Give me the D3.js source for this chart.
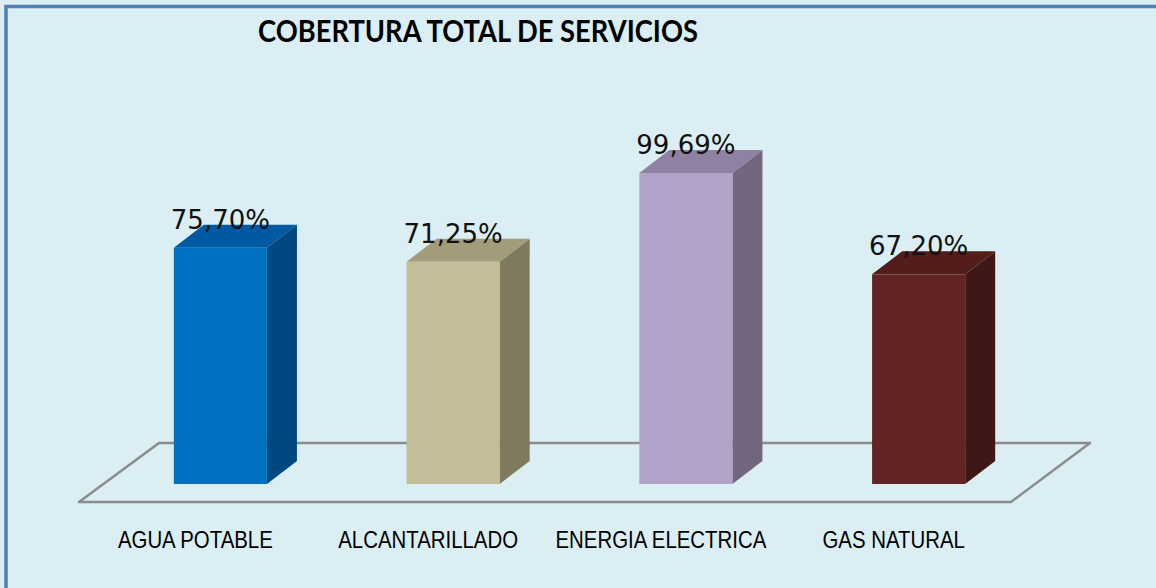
<!DOCTYPE html>
<html>
<head>
<meta charset="utf-8">
<script src="https://cdn.jsdelivr.net/npm/d3@7"></script>
<style>
  html, body { margin: 0; padding: 0; background: #daeef3; overflow: hidden; }
</style>
</head>
<body>
<div id="chart"></div>
<script>
const categories = ['AGUA POTABLE', 'ALCANTARILLADO', 'ENERGIA ELECTRICA', 'GAS NATURAL'];
const values = [75.70, 71.25, 99.69, 67.20];
const valueLabels = ['75,70%', '71,25%', '99,69%', '67,20%'];
const title = 'COBERTURA TOTAL DE SERVICIOS';

// front / top / side shades of each bar
const frontColors = ['#0070c0', '#c4bd97', '#b3a2c7', '#632523'];
const topColors = ['#0059a3', '#a29c7b', '#8f81a2', '#521d1b'];
const sideColors = ['#00467f', '#7f7a5e', '#726680', '#3f1716'];

const width = 1156;
const height = 588;
const depth = { dx: 30, dy: -23 };

const svg = d3.select('#chart')
  .append('svg')
  .attr('width', width)
  .attr('height', height)
  .style('display', 'block');

svg.append('rect')
  .attr('width', width)
  .attr('height', height)
  .attr('fill', '#daeef3');

// outer frame (only left and top edges fall inside the picture)
svg.append('rect')
  .attr('x', 6)
  .attr('y', 6.5)
  .attr('width', width + 50)
  .attr('height', height + 50)
  .attr('fill', 'none')
  .attr('stroke', '#4f81bd')
  .attr('stroke-width', 3.5);

const xScale = d3.scaleBand()
  .domain(categories)
  .range([104, 1035])
  .paddingInner(0.6)
  .paddingOuter(0.3);

const yScale = d3.scaleLinear()
  .domain([0, 100])
  .range([484, 172]);

// floor plane
const floor = d3.path();
floor.moveTo(79, 502);
floor.lineTo(1011, 502);
floor.lineTo(1090, 443);
floor.lineTo(159, 443);
floor.closePath();

svg.append('path')
  .attr('d', floor.toString())
  .attr('fill', '#daeef3')
  .attr('stroke', '#8c8c8c')
  .attr('stroke-width', 2.5)
  .attr('stroke-linejoin', 'round');

const bars = svg.append('g')
  .selectAll('g')
  .data(categories)
  .join('g');

const bw = xScale.bandwidth();

bars.append('path')
  .attr('fill', (_, i) => sideColors[i])
  .attr('d', (d, i) => {
    const x = xScale(d) + bw;
    const y0 = yScale(0);
    const y1 = yScale(values[i]);
    const p = d3.path();
    p.moveTo(x, y0);
    p.lineTo(x + depth.dx, y0 + depth.dy);
    p.lineTo(x + depth.dx, y1 + depth.dy);
    p.lineTo(x, y1);
    p.closePath();
    return p.toString();
  });

bars.append('path')
  .attr('fill', (_, i) => topColors[i])
  .attr('d', (d, i) => {
    const x = xScale(d);
    const y1 = yScale(values[i]);
    const p = d3.path();
    p.moveTo(x, y1);
    p.lineTo(x + depth.dx, y1 + depth.dy);
    p.lineTo(x + bw + depth.dx, y1 + depth.dy);
    p.lineTo(x + bw, y1);
    p.closePath();
    return p.toString();
  });

bars.append('rect')
  .attr('fill', (_, i) => frontColors[i])
  .attr('x', d => xScale(d))
  .attr('y', (_, i) => yScale(values[i]))
  .attr('width', bw)
  .attr('height', (_, i) => yScale(0) - yScale(values[i]));

bars.append('text')
  .attr('x', d => xScale(d) + bw / 2)
  .attr('y', (_, i) => yScale(values[i]) - 19)
  .attr('text-anchor', 'middle')
  .attr('font-family', 'DejaVu Sans, sans-serif')
  .attr('font-size', 26)
  .attr('fill', '#111')
  .text((_, i) => valueLabels[i]);

// category labels, squeezed horizontally to mimic a narrow face
svg.append('g')
  .selectAll('text')
  .data(categories)
  .join('text')
  .attr('transform', d => `translate(${xScale(d) + bw / 2 - 25},548) scale(0.85,1)`)
  .attr('text-anchor', 'middle')
  .attr('font-family', '"Liberation Sans Narrow", "Arial Narrow", "Liberation Sans", sans-serif')
  .attr('font-size', 24)
  .attr('fill', '#000')
  .text(d => d);

svg.append('text')
  .attr('x', 258)
  .attr('y', 42)
  .attr('font-family', 'Lato, "Open Sans", sans-serif')
  .attr('font-weight', 'bold')
  .attr('font-size', 30)
  .attr('textLength', 440)
  .attr('lengthAdjust', 'spacingAndGlyphs')
  .attr('fill', '#000')
  .text(title);
</script>
</body>
</html>
